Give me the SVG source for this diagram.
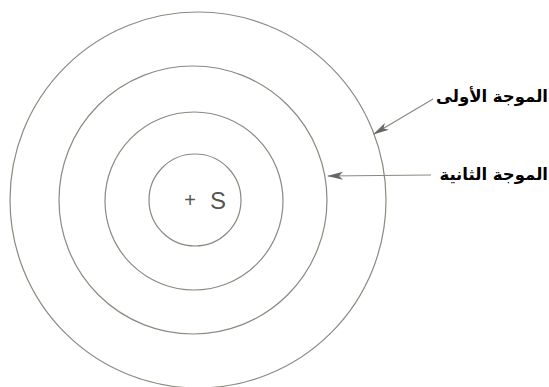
<svg xmlns="http://www.w3.org/2000/svg" width="549" height="387" viewBox="0 0 549 387">
<style>
.c{fill:none;stroke:#8a8a80;stroke-width:1.2}
.l{stroke:#8a8a80;stroke-width:1.2;fill:none}
.t{font-family:"DejaVu Sans",sans-serif;font-size:16.5px;fill:#000;font-weight:bold}
.s{font-family:"Liberation Sans",sans-serif;fill:#555}
</style>
<defs>
<marker id="ah" markerWidth="16" markerHeight="10" refX="15" refY="5" orient="auto" markerUnits="userSpaceOnUse">
<path d="M0,1 L16,5 L0,9 L4,5 Z" fill="#666"/>
</marker>
</defs>
<rect width="549" height="387" fill="#fff"/>
<g id="wave1"><circle class="c" cx="198" cy="200" r="188"/></g>
<g id="wave2"><circle class="c" cx="193" cy="200" r="134"/></g>
<g id="wave3"><circle class="c" cx="194" cy="201" r="89"/></g>
<g id="wave4"><circle class="c" cx="195" cy="200" r="46"/></g>
<g id="source">
<text class="s" x="190" y="207" font-size="20" text-anchor="middle">+</text>
<text class="s" x="218" y="209" font-size="24" text-anchor="middle">S</text>
</g>
<g id="label1"><text class="t" x="548" y="102" text-anchor="end">الموجة الأولى</text></g>
<g id="label2"><text class="t" x="548" y="180" text-anchor="end">الموجة الثانية</text></g>
<g id="connectors">
<line class="l" x1="433" y1="99" x2="374" y2="134" marker-end="url(#ah)"/>
<line class="l" x1="431" y1="175" x2="328" y2="176" marker-end="url(#ah)"/>
</g>
</svg>
